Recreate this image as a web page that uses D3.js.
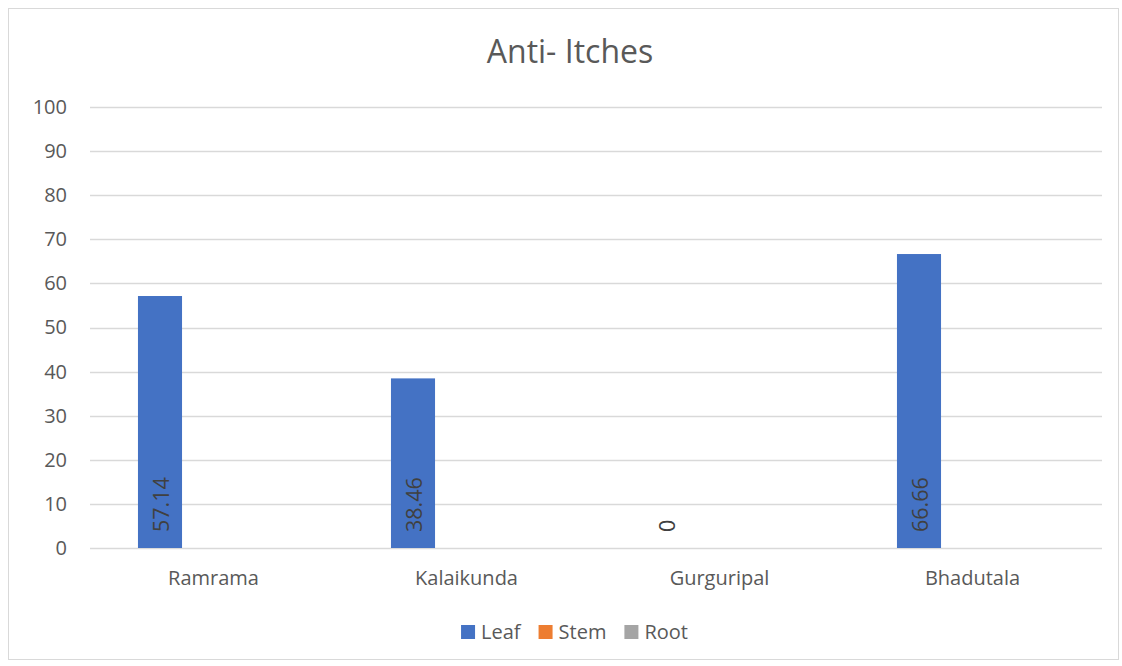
<!DOCTYPE html>
<html>
<head>
<meta charset="utf-8">
<script src="https://cdn.jsdelivr.net/npm/d3@7"></script>
<style>
  html, body { margin: 0; padding: 0; background: #ffffff; }
  svg text { font-family: "Open Sans", "Noto Sans", sans-serif; }
</style>
</head>
<body>
<svg id="chart" width="1122" height="666"></svg>
<script>
// Share of remedies (%) against itching, by village and plant part
const chartTitle = "Anti- Itches";
const categories = ["Ramrama", "Kalaikunda", "Gurguripal", "Bhadutala"];
const seriesNames = ["Leaf", "Stem", "Root"];
const leafValues = [57.14, 38.46, 0, 66.66];
const stemValues = [0, 0, 0, 0];
const rootValues = [0, 0, 0, 0];
const yTicks = [0, 10, 20, 30, 40, 50, 60, 70, 80, 90, 100];
const seriesColors = ["#4472C4", "#ED7D31", "#A5A5A5"];

const seriesValues = [leafValues, stemValues, rootValues];
const labelledSeries = ["Leaf"];

const svg = d3.select("#chart");
const plot = { left: 90, right: 1102, top: 107, bottom: 548 };

// chart frame
svg.append("rect")
  .attr("x", 8.5).attr("y", 8.5)
  .attr("width", 1110).attr("height", 651)
  .attr("fill", "#ffffff")
  .attr("stroke", "#d9d9d9").attr("stroke-width", 1);

// title
svg.append("text")
  .attr("x", 570).attr("y", 63)
  .attr("text-anchor", "middle")
  .attr("font-size", 32)
  .attr("fill", "#595959")
  .text(chartTitle);

const x0 = d3.scaleBand().domain(categories).range([plot.left, plot.right]).padding(0);
const x1 = d3.scaleBand().domain(seriesNames)
  .range([-84.75, 84.75]).paddingInner(0.22).paddingOuter(0.11);
const y = d3.scaleLinear().domain([0, 100]).range([plot.bottom, plot.top]);

// horizontal gridlines
svg.append("g").selectAll("line").data(yTicks).join("line")
  .attr("x1", plot.left).attr("x2", plot.right)
  .attr("y1", d => Math.round(y(d)) + 0.5).attr("y2", d => Math.round(y(d)) + 0.5)
  .attr("stroke", "#d9d9d9").attr("stroke-width", 1.4);

// y axis labels
const yAxis = d3.axisLeft(y).tickValues(yTicks).tickSize(0).tickPadding(0);
const gy = svg.append("g").attr("transform", `translate(${67},0)`).call(yAxis);
gy.select(".domain").remove();
gy.selectAll("text")
  .attr("font-size", 20).attr("fill", "#595959")
  .attr("font-family", "'Open Sans', sans-serif");

// x axis labels
const xAxis = d3.axisBottom(x0).tickSize(0).tickPadding(0);
const gx = svg.append("g").attr("transform", `translate(-3,${plot.bottom})`).call(xAxis);
gx.select(".domain").remove();
gx.selectAll("text")
  .attr("font-size", 20).attr("fill", "#595959")
  .attr("dy", null).attr("y", 37)
  .attr("font-family", "'Open Sans', sans-serif");

// bars
const rows = [];
categories.forEach((c, i) => {
  seriesNames.forEach((s, j) => {
    rows.push({ cat: c, series: s, value: seriesValues[j][i], color: seriesColors[j] });
  });
});

const groups = svg.append("g").selectAll("g").data(categories).join("g")
  .attr("transform", c => `translate(${x0(c) + x0.bandwidth() / 2},0)`);

groups.selectAll("rect")
  .data(c => rows.filter(r => r.cat === c))
  .join("rect")
  .attr("x", d => x1(d.series))
  .attr("width", x1.bandwidth())
  .attr("y", d => y(d.value))
  .attr("height", d => y(0) - y(d.value))
  .attr("fill", d => d.color);

// data labels, rotated, anchored at the base inside the bar
groups.selectAll("text.val")
  .data(c => rows.filter(r => r.cat === c && labelledSeries.includes(r.series)))
  .join("text")
  .attr("class", "val")
  .attr("transform", d => `translate(${x1(d.series) + x1.bandwidth() / 2},${y(0) - 16}) rotate(-90)`)
  .attr("text-anchor", "start")
  .attr("dominant-baseline", "central")
  .attr("font-size", 21.5)
  .attr("fill", "#404040")
  .text(d => d3.format("")(d.value));

// legend
const legend = svg.append("g");
const items = legend.selectAll("g").data(seriesNames).join("g");
items.append("rect")
  .attr("width", 14).attr("height", 14)
  .attr("y", -14)
  .attr("fill", (d, i) => seriesColors[i]);
items.append("text")
  .attr("x", 20).attr("y", 0)
  .attr("font-size", 20).attr("fill", "#595959")
  .text(d => d);
let cursor = 0;
items.each(function () {
  const g = d3.select(this);
  g.attr("transform", `translate(${cursor},0)`);
  const w = 20 + g.select("text").node().getComputedTextLength();
  cursor += w + 18;
});
const legendWidth = cursor - 18;
legend.attr("transform", `translate(${574.5 - legendWidth / 2},${639})`);
</script>
</body>
</html>
